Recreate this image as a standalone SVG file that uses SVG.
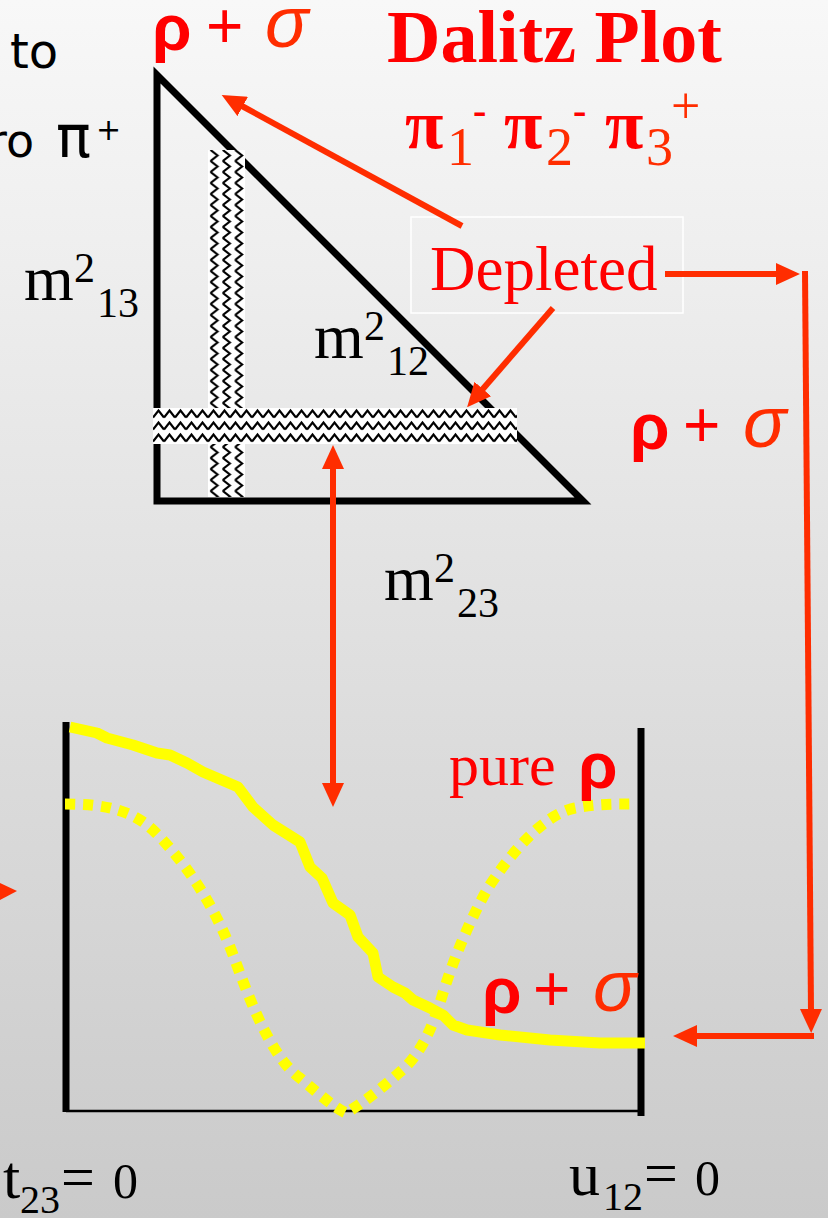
<svg xmlns="http://www.w3.org/2000/svg" width="828" height="1218" viewBox="0 0 828 1218">
<defs>
  <linearGradient id="bg" x1="0" y1="0" x2="0" y2="1">
    <stop offset="0" stop-color="#f8f8f8"/>
    <stop offset="1" stop-color="#cacaca"/>
  </linearGradient>
  <pattern id="zzH" patternUnits="userSpaceOnUse" x="153" y="408" width="11" height="12">
    <rect width="11" height="12" fill="#fff"/>
    <path d="M0,9.5 L5.5,2.5 L11,9.5" fill="none" stroke="#000" stroke-width="2.2"/>
  </pattern>
  <pattern id="zzV" patternUnits="userSpaceOnUse" x="208" y="150" width="12.3" height="11">
    <rect width="12.3" height="11" fill="#fff"/>
    <path d="M2.5,0 L9.5,5.5 L2.5,11" fill="none" stroke="#000" stroke-width="2.2"/>
  </pattern>
  <marker id="ah" viewBox="0 0 24 22" refX="2" refY="11" markerWidth="24" markerHeight="22" markerUnits="userSpaceOnUse" orient="auto-start-reverse">
    <path d="M0,0 L24,11 L0,22 Z" fill="#ff2d00"/>
  </marker>
  <style>
    .ser{font-family:"Liberation Serif","Times New Roman",serif}
    .san{font-family:"Liberation Sans",Arial,sans-serif}
    .cg{font-family:"DejaVu Sans",sans-serif;fill:#000}
    .red{fill:#ff0000}
    .ored{fill:#ff2d00}
    .blk{fill:#000}
    .conn{stroke:#ff2d00;stroke-width:6;fill:none}
    .axis{stroke:#000;fill:none}
  </style>
</defs>
<rect width="828" height="1218" fill="url(#bg)"/>

<g id="side-text">
  <text x="10" y="68" class="cg" font-size="48">to</text>
  <text x="-12" y="157" class="cg" font-size="46">ro</text>
  <text x="56" y="157" class="cg" font-size="58">π</text>
  <text x="96" y="140" class="cg" font-size="30">+</text>
  <polygon points="0,883 17,891 0,900" fill="#ff2d00"/>
</g>

<g id="title">
  <text x="387" y="62" class="ser red" font-size="74" font-weight="bold">Dalitz Plot</text>
  <text class="ser" font-size="70" font-weight="bold">
    <tspan x="405" y="148" class="red">π</tspan><tspan x="447" y="165" class="ored" font-size="54" font-weight="normal">1</tspan><tspan x="473" y="124" class="red" font-size="40">-</tspan><tspan x="504" y="148" class="red">π</tspan><tspan x="546" y="165" class="ored" font-size="54" font-weight="normal">2</tspan><tspan x="573" y="124" class="red" font-size="40">-</tspan><tspan x="605" y="148" class="red">π</tspan><tspan x="646" y="165" class="ored" font-size="54" font-weight="normal">3</tspan><tspan x="671" y="123" class="ored" font-size="52" font-weight="normal">+</tspan>
  </text>
</g>

<g id="label-top-rho-sigma">
  <text x="152" y="50" class="san red" font-size="64" font-weight="bold">ρ</text>
  <text x="206" y="48" class="san red" font-size="64">+</text>
  <text x="265" y="47" class="san ored" font-size="72" font-style="italic">σ</text>
</g>

<g id="dalitz-triangle">
  <path d="M157,75 L157,501 L583,501 Z" class="axis" stroke-width="7" stroke-linejoin="miter"/>
  <rect x="208" y="150" width="37" height="347" fill="url(#zzV)"/>
  <rect x="153" y="408" width="364" height="36" fill="url(#zzH)"/>
</g>

<g id="label-m13">
  <text class="ser blk"><tspan x="24" y="300" font-size="64">m</tspan><tspan x="74" y="282" font-size="42">2</tspan><tspan x="97" y="317" font-size="42">13</tspan></text>
</g>
<g id="label-m12">
  <text class="ser blk"><tspan x="314" y="358" font-size="64">m</tspan><tspan x="364" y="340" font-size="42">2</tspan><tspan x="387" y="375" font-size="42">12</tspan></text>
</g>
<g id="label-m23">
  <text class="ser blk"><tspan x="384" y="600" font-size="64">m</tspan><tspan x="434" y="582" font-size="42">2</tspan><tspan x="457" y="617" font-size="42">23</tspan></text>
</g>

<g id="depleted">
  <rect x="411" y="217" width="272" height="96" fill="none" stroke="#ffffff" stroke-width="1.5"/>
  <text x="430" y="290" class="ser red" font-size="63">Depleted</text>
</g>

<g id="label-mid-rho-sigma">
  <text x="630" y="449" class="san red" font-size="64" font-weight="bold">ρ</text>
  <text x="683" y="447" class="san red" font-size="64">+</text>
  <text x="743" y="447" class="san ored" font-size="72" font-style="italic">σ</text>
</g>

<g id="bottom-plot">
  <line x1="66" y1="722" x2="66" y2="1112" class="axis" stroke-width="7"/>
  <line x1="641" y1="728" x2="641" y2="1116" class="axis" stroke-width="7"/>
  <line x1="66" y1="1111" x2="641" y2="1111" class="axis" stroke-width="2.5"/>
  <path d="M65,804 C110,804 135,812 155,832 C185,862 215,905 235,960 C255,1015 275,1060 300,1078 C320,1095 335,1108 346,1113 C360,1105 380,1090 400,1072 C420,1055 432,1030 443,993 C455,955 470,920 488,888 C505,862 540,815 575,808 C595,804 615,804 630,804" fill="none" stroke="#ffff00" stroke-width="11" stroke-dasharray="10 8"/>
  <polyline points="70,727 97,733 107,738 133,745 157,753 170,755 187,763 203,772 238,787 253,807 273,825 300,842 310,867 322,878 333,903 350,915 358,937 373,953 378,977 393,987 405,993 413,1000 430,1008 443,1015 453,1025 467,1030 500,1035 550,1040 600,1043 645,1043" fill="none" stroke="#ffff00" stroke-width="11" stroke-linejoin="round"/>
</g>

<g id="label-pure-rho">
  <text x="449" y="785" class="ser red" font-size="60">pure</text>
  <text x="578" y="788" class="san red" font-size="64" font-weight="bold">ρ</text>
</g>

<g id="label-bottom-rho-sigma">
  <text x="482" y="1013" class="san red" font-size="64" font-weight="bold">ρ</text>
  <text x="533" y="1011" class="san red" font-size="64">+</text>
  <text x="593" y="1011" class="san ored" font-size="72" font-style="italic">σ</text>
</g>

<g id="label-t23">
  <text class="ser blk"><tspan x="3" y="1198" font-size="62">t</tspan><tspan x="20" y="1213" font-size="40">23</tspan><tspan x="61" y="1197" font-size="60">=</tspan><tspan x="113" y="1198" font-size="50">0</tspan></text>
</g>
<g id="label-u12">
  <text class="ser blk"><tspan x="569" y="1195" font-size="62">u</tspan><tspan x="603" y="1210" font-size="40">12</tspan><tspan x="644" y="1193" font-size="60">=</tspan><tspan x="695" y="1195" font-size="50">0</tspan></text>
</g>

<g id="connectors">
  <line x1="462" y1="226" x2="241" y2="105.5" class="conn" marker-end="url(#ah)"/>
  <line x1="553" y1="308" x2="481.5" y2="390.5" class="conn" marker-end="url(#ah)"/>
  <line x1="665" y1="274" x2="778" y2="274" class="conn" marker-end="url(#ah)"/>
  <line x1="805" y1="271" x2="811" y2="1011" class="conn" marker-end="url(#ah)"/>
  <line x1="814" y1="1036" x2="695" y2="1036" class="conn" marker-end="url(#ah)"/>
  <line x1="333" y1="467" x2="333" y2="785" class="conn" stroke-width="5" marker-start="url(#ah)" marker-end="url(#ah)"/>
</g>
</svg>
